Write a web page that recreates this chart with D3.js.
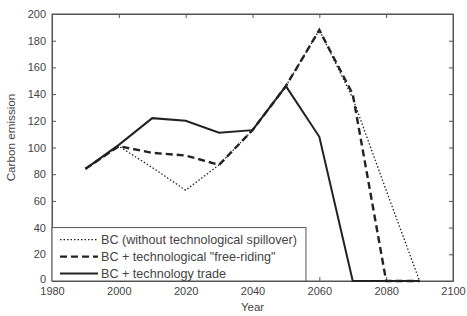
<!DOCTYPE html>
<html>
<head>
<meta charset="utf-8">
<script src="https://cdn.jsdelivr.net/npm/d3@7"></script>
<style>
  body { margin: 0; background: #fff; }
  text { font-family: "Liberation Sans", Arial, sans-serif; fill: #444; }
</style>
</head>
<body>
<div id="chart"></div>
<script>
const years = [1990, 2000, 2010, 2020, 2030, 2040, 2050, 2060, 2070, 2080, 2090];
const noSpillover = [84, 101, 85, 68, 87, 113, 146, 188, 137, 68, 0];
const freeRiding = [84, 101, 96, 94, 87, 113, 146, 188, 140, 0, 0];
const techTrade = [84, 102, 122, 120, 111, 113, 146, 108, 0, 0, 0];
const xTicks = [1980, 2000, 2020, 2040, 2060, 2080, 2100];
const yTicks = [0, 20, 40, 60, 80, 100, 120, 140, 160, 180, 200];
const legendLabels = [
    "BC (without technological spillover)",
    "BC + technological \"free-riding\"",
    "BC + technology trade"
];

const margin = {top: 14, right: 14, bottom: 35, left: 52};
const W = 467, H = 316;
const width = W - margin.left - margin.right;
const height = H - margin.top - margin.bottom;

const svg = d3.select("#chart")
    .append("svg")
    .attr("width", W)
    .attr("height", H)
    .append("g")
    .attr("transform", `translate(${margin.left},${margin.top})`);

const x = d3.scaleLinear().domain([1980, 2100]).range([0, width]);
const y = d3.scaleLinear().domain([0, 200]).range([height, 0]);

// box with inward ticks on all sides
svg.append("g")
    .attr("transform", `translate(0,${height})`)
    .call(d3.axisBottom(x).tickValues(xTicks).tickFormat(d3.format("d")).tickSizeInner(-4).tickSizeOuter(0).tickPadding(6));
svg.append("g")
    .call(d3.axisTop(x).tickValues(xTicks).tickFormat("").tickSizeInner(-4).tickSizeOuter(0));
const yAxis = svg.append("g")
    .call(d3.axisLeft(y).tickValues(yTicks).tickSizeInner(-4).tickSizeOuter(0).tickPadding(6));
svg.append("g")
    .attr("transform", `translate(${width},0)`)
    .call(d3.axisRight(y).tickValues(yTicks).tickFormat("").tickSizeInner(-4).tickSizeOuter(0));

svg.selectAll(".domain").attr("stroke", "#555");
svg.selectAll(".tick line").attr("stroke", "#555");
svg.selectAll(".tick text").style("font-size", "11px").attr("fill", "#444");
// lift the "0" a little so it clears "1980"
yAxis.selectAll(".tick text").filter(d => d === 0).attr("dy", "0.1em");

svg.append("rect")
    .attr("width", width)
    .attr("height", height)
    .attr("fill", "none")
    .attr("stroke", "#555");

const line = d3.line()
    .x((d, i) => x(years[i]))
    .y(d => y(d));

const series = [
    {values: noSpillover, width: 1.3, dash: "1.5,2"},
    {values: freeRiding, width: 2.4, dash: "7,4"},
    {values: techTrade, width: 2, dash: null}
];

series.forEach(s => {
    svg.append("path")
        .datum(s.values)
        .attr("d", line)
        .attr("fill", "none")
        .attr("stroke", "#222")
        .attr("stroke-width", s.width)
        .attr("stroke-dasharray", s.dash);
});

// legend
const lg = svg.append("g");
lg.append("rect")
    .attr("x", 0)
    .attr("y", y(40))
    .attr("width", x(2056) - x(1980))
    .attr("height", y(0) - y(40))
    .attr("fill", "#fff")
    .attr("stroke", "#555");

legendLabels.forEach((t, i) => {
    const yy = y(40) + 12 + i * 17;
    lg.append("line")
        .attr("x1", 8)
        .attr("x2", 46)
        .attr("y1", yy)
        .attr("y2", yy)
        .attr("stroke", "#222")
        .attr("stroke-width", series[i].width)
        .attr("stroke-dasharray", series[i].dash);
    lg.append("text")
        .attr("x", 49)
        .attr("y", yy + 4.5)
        .style("font-size", "12.6px")
        .text(t);
});

svg.append("text")
    .attr("x", width / 2)
    .attr("y", height + 30)
    .attr("text-anchor", "middle")
    .style("font-size", "11.5px")
    .text("Year");

svg.append("text")
    .attr("transform", `translate(-37,${height / 2 - 10}) rotate(-90)`)
    .attr("text-anchor", "middle")
    .style("font-size", "11.7px")
    .text("Carbon emission");
</script>
</body>
</html>
